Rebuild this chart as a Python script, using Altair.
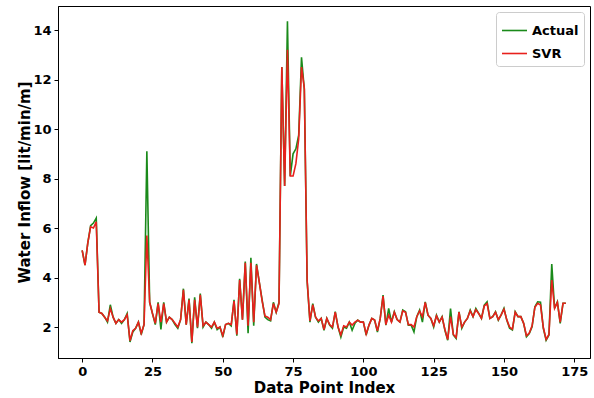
import altair as alt
import pandas as pd

actual = [5.1, 4.5, 5.4, 6.1, 6.2, 6.4, 2.6, 2.55, 2.4, 2.2,
          2.9, 2.4, 2.15, 2.3, 2.15, 2.3, 2.55, 1.4, 1.8, 1.95,
          2.2, 1.7, 2.1, 9.1, 3.0, 2.55, 2.1, 3.0, 1.9, 3.0,
          2.2, 2.4, 2.3, 2.1, 1.95, 2.3, 3.55, 2.1, 3.15, 1.35,
          3.2, 1.95, 3.35, 2.0, 2.2, 2.1, 1.95, 2.2, 1.9, 2.0,
          1.6, 2.1, 2.15, 2.05, 3.1, 1.65, 3.95, 2.3, 4.65, 1.75,
          4.8, 2.05, 4.55, 3.8, 3.1, 2.4, 2.3, 2.25, 3.0, 2.6,
          3.0, 12.5, 7.7, 14.35, 8.1, 9.0, 9.2, 9.75, 12.9, 11.6,
          3.85, 2.2, 2.95, 2.4, 2.2, 2.35, 1.87, 2.35, 2.08, 1.95,
          2.62, 2.0, 1.6, 2.0, 1.95, 2.2, 1.87, 2.15, 2.28, 2.2,
          2.2, 1.68, 2.08, 2.35, 2.28, 1.8, 2.35, 3.29, 2.08, 2.75,
          2.2, 2.62, 2.3, 2.2, 2.69, 2.62, 2.08, 2.08, 1.8, 2.42,
          2.69, 2.2, 3.02, 2.48, 2.35, 2.0, 2.48, 2.2, 2.42, 1.87,
          1.47, 2.75, 1.68, 1.54, 2.62, 1.95, 2.2, 2.35, 2.69, 2.42,
          2.75, 2.55, 2.35, 2.89, 3.02, 2.35, 2.42, 2.62, 2.28, 2.49,
          2.76, 2.28, 1.95, 1.88, 2.62, 2.42, 2.42, 2.15, 1.61, 1.74,
          2.01, 2.82, 3.02, 3.0, 1.95, 1.47, 1.68, 4.55, 2.76, 3.02,
          2.15, 2.96, 2.96]

svr = [5.1, 4.5, 5.4, 6.05, 6.0, 6.25, 2.6, 2.55, 2.4, 2.25,
       2.75, 2.4, 2.15, 2.3, 2.2, 2.3, 2.5, 1.45, 1.85, 1.95,
       2.2, 1.75, 2.1, 5.7, 3.0, 2.55, 2.15, 2.95, 2.2, 2.95,
       2.2, 2.4, 2.3, 2.15, 2.0, 2.3, 3.5, 2.1, 3.1, 1.4,
       3.1, 2.0, 3.3, 2.05, 2.2, 2.1, 2.0, 2.2, 1.95, 2.0,
       1.65, 2.1, 2.15, 2.1, 3.05, 1.7, 3.9, 2.3, 4.6, 2.05,
       4.6, 2.2, 4.5, 3.8, 3.05, 2.45, 2.4, 2.3, 2.95, 2.6,
       2.95, 12.5, 7.7, 13.2, 8.1, 8.1, 8.6, 9.6, 12.5, 11.65,
       3.9, 2.25, 2.9, 2.4, 2.25, 2.35, 1.9, 2.35, 2.1, 2.0,
       2.6, 2.0, 1.68, 2.05, 2.0, 2.2, 2.08, 2.2, 2.28, 2.2,
       2.2, 1.72, 2.08, 2.35, 2.28, 1.85, 2.35, 3.25, 2.1, 2.48,
       2.2, 2.6, 2.3, 2.2, 2.65, 2.6, 2.1, 2.1, 2.0, 2.42,
       2.65, 2.42, 3.0, 2.48, 2.35, 2.05, 2.45, 2.2, 2.4, 1.9,
       1.5, 2.42, 1.7, 1.58, 2.6, 2.0, 2.2, 2.35, 2.65, 2.42,
       2.7, 2.55, 2.35, 2.85, 2.95, 2.35, 2.42, 2.6, 2.3, 2.49,
       2.72, 2.3, 2.0, 1.92, 2.6, 2.42, 2.42, 2.15, 1.65, 1.76,
       2.05, 2.8, 2.96, 2.89, 1.98, 1.5, 1.7, 3.9, 2.76, 3.0,
       2.2, 2.96, 2.96]

series_names = ["Actual", "SVR"]
series_colors = ["#1a8a1a", "#e8201c"]

rows = []
for name, vals in zip(series_names, [actual, svr]):
    for i, v in enumerate(vals):
        rows.append({"idx": i, "value": v, "series": name})
df = pd.DataFrame(rows)

FONT = "DejaVu Sans"

chart = alt.Chart(df).mark_line(strokeWidth=1.6).encode(
    x=alt.X("idx:Q",
            scale=alt.Scale(domain=[-8.6, 180.6], nice=False, zero=False),
            axis=alt.Axis(values=[0, 25, 50, 75, 100, 125, 150, 175],
                          title="Data Point Index", grid=False)),
    y=alt.Y("value:Q",
            scale=alt.Scale(domain=[0.75, 14.97], nice=False, zero=False),
            axis=alt.Axis(values=[2, 4, 6, 8, 10, 12, 14],
                          title="Water Inflow [lit/min/m]", grid=False)),
    color=alt.Color("series:N",
                    scale=alt.Scale(domain=series_names, range=series_colors),
                    legend=alt.Legend(title=None, orient="top-right",
                                      symbolType="stroke", symbolSize=625,
                                      symbolStrokeWidth=1.6,
                                      labelFont=FONT, labelFontSize=13,
                                      labelFontWeight="bold", labelColor="black",
                                      fillColor="white", strokeColor="#cccccc",
                                      cornerRadius=3, padding=5, rowPadding=2,
                                      offset=6)),
    order=alt.Order("series:N"),
).properties(
    width=532, height=352,
    autosize=alt.AutoSizeParams(type="none"),
    padding={"left": 58, "top": 6, "right": 4, "bottom": 40},
).configure_view(
    stroke="black", strokeWidth=1
).configure_axis(
    domainColor="black", tickColor="black", tickSize=4,
    labelFont=FONT, labelFontSize=13, labelFontWeight="bold", labelColor="black",
    titleFont=FONT, titleFontSize=15, titleFontWeight="bold", titleColor="black",
    labelPadding=3,
).configure_axisX(
    titlePadding=2
).configure_axisY(
    titlePadding=0
)

chart.save("out.html", embed_options={"renderer": "svg", "actions": False})
